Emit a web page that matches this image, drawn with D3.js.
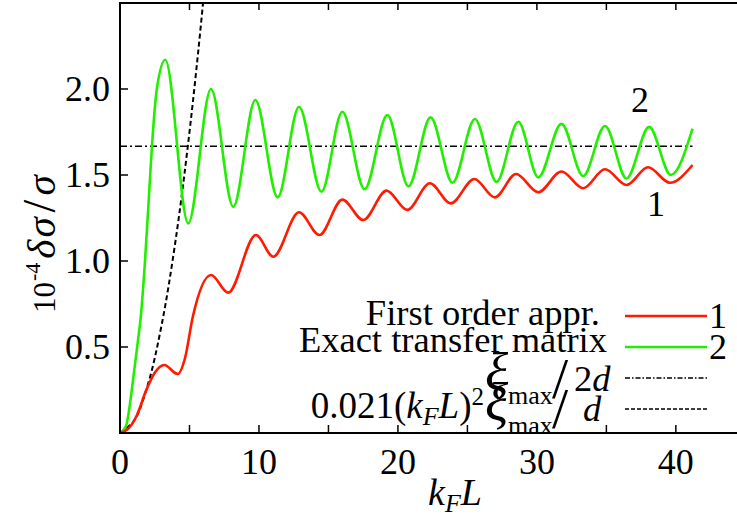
<!DOCTYPE html>
<html>
<head>
<meta charset="utf-8">
<script src="https://cdn.jsdelivr.net/npm/d3@7"></script>
<style>
  body { margin: 0; background: #fff; }
  svg text { font-family: "Liberation Serif", "Times New Roman", serif; fill: #000; }
</style>
</head>
<body>
<svg id="chart" width="737" height="518"></svg>
<script>
// values (k_F L, 10^-4 dsigma/sigma)
var firstOrderX = [0, 0.6, 1.2, 1.87, 2.5, 3.19, 4.15, 4.68, 5.24, 6.55, 7.78, 9.78, 11.03, 12.88, 14.35, 16.0, 17.5, 19.18, 20.67, 22.3, 23.8, 25.5, 26.98, 28.5, 30.1, 31.77, 33.33, 34.9, 36.45, 38.0, 39.57, 41.2];
var firstOrderY = [0, 0.025, 0.1, 0.245, 0.35, 0.395, 0.343, 0.436, 0.676, 0.919, 0.816, 1.151, 1.025, 1.283, 1.151, 1.357, 1.238, 1.409, 1.297, 1.452, 1.335, 1.477, 1.37, 1.506, 1.4, 1.52, 1.423, 1.533, 1.442, 1.545, 1.455, 1.558];

var exactX = [0, 0.43, 0.79, 1.03, 1.27, 1.5, 1.8, 2.1, 2.3, 2.65, 3.26, 4.91, 6.55, 8.15, 9.74, 11.35, 12.88, 14.5, 16.0, 17.6, 19.24, 20.76, 22.35, 23.93, 25.54, 27.1, 28.66, 30.1, 31.77, 33.33, 34.9, 36.45, 38.08, 39.64, 41.2];
var exactY = [0, 0.04, 0.213, 0.368, 0.523, 0.68, 1.0, 1.4, 1.667, 2.0, 2.17, 1.219, 2.0, 1.316, 1.936, 1.37, 1.897, 1.403, 1.868, 1.417, 1.849, 1.434, 1.835, 1.455, 1.826, 1.46, 1.81, 1.486, 1.797, 1.494, 1.785, 1.48, 1.78, 1.5, 1.77];

var limitX = [0, 41.2];
var limitY = [1.667, 1.667];

var quadX = [0, 1, 2, 3, 4, 5, 6, 7];
var quadY = [0, 0.07, 0.28, 0.63, 1.12, 1.75, 2.52, 3.43];

var xTicks = [0, 5, 10, 15, 20, 25, 30, 35, 40, 45];
var xLabels = [0, 10, 20, 30, 40];
var yTicks = [0.5, 1.0, 1.5, 2.0];

var svg = d3.select("#chart");
var x = d3.scaleLinear().domain([0, 44.4]).range([120, 737]);
var y = d3.scaleLinear().domain([0, 2.5]).range([433, 3]);

svg.append("clipPath").attr("id", "clip")
  .append("rect").attr("x", 120).attr("y", 3).attr("width", 617).attr("height", 430);

function pts(xs, ys) {
  return xs.map(function(v, i) { return [v, ys[i]]; });
}

var line = d3.line()
  .x(function(d) { return x(d[0]); })
  .y(function(d) { return y(d[1]); })
  .curve(d3.curveMonotoneX);

var g = svg.append("g").attr("clip-path", "url(#clip)");

g.append("path").datum(pts(limitX, limitY))
  .attr("d", line).attr("fill", "none").attr("stroke", "#000")
  .attr("stroke-width", 1.6).attr("stroke-dasharray", "7,3,2,3");

g.append("path").datum(pts(quadX, quadY))
  .attr("d", line.curve(d3.curveCatmullRom)).attr("fill", "none").attr("stroke", "#000")
  .attr("stroke-width", 2).attr("stroke-dasharray", "5,3");
line.curve(d3.curveMonotoneX);

g.append("path").datum(pts(exactX, exactY))
  .attr("d", line).attr("fill", "none").attr("stroke", "#22ee00").attr("stroke-width", 2.6);

g.append("path").datum(pts(firstOrderX, firstOrderY))
  .attr("d", line).attr("fill", "none").attr("stroke", "#ff1a00").attr("stroke-width", 2.6);

// frame
svg.append("path").attr("d", "M737,3H120V433H737")
  .attr("fill", "none").attr("stroke", "#000").attr("stroke-width", 2);

// ticks, pointing inward
xTicks.forEach(function(t) {
  if (t == 0) return;
  svg.append("line").attr("x1", x(t)).attr("x2", x(t)).attr("y1", 433).attr("y2", 425)
    .attr("stroke", "#000").attr("stroke-width", 1.5);
  svg.append("line").attr("x1", x(t)).attr("x2", x(t)).attr("y1", 3).attr("y2", 10)
    .attr("stroke", "#000").attr("stroke-width", 1.5);
});
yTicks.forEach(function(t) {
  svg.append("line").attr("x1", 120).attr("x2", 128).attr("y1", y(t)).attr("y2", y(t))
    .attr("stroke", "#000").attr("stroke-width", 1.5);
  svg.append("text").attr("x", 110).attr("y", y(t) + 12)
    .attr("text-anchor", "end").attr("font-size", 36).text(t.toFixed(1));
});
xLabels.forEach(function(t) {
  svg.append("text").attr("x", x(t)).attr("y", 474)
    .attr("text-anchor", "middle").attr("font-size", 36).text(t);
});

// x label
var xl = svg.append("text").attr("x", 455).attr("y", 505).attr("text-anchor", "middle").attr("font-size", 38);
xl.append("tspan").attr("font-style", "italic").text("k");
xl.append("tspan").attr("font-style", "italic").attr("font-size", 26).attr("dy", 7).text("F");
xl.append("tspan").attr("font-style", "italic").attr("dy", -7).text("L");

// y label, bottom-up from y=313
var yl = svg.append("text").attr("transform", "translate(55,313) rotate(-90)")
  .attr("text-anchor", "start").attr("font-size", 31);
yl.append("tspan").text("10");
yl.append("tspan").attr("font-size", 22).attr("dx", 1).attr("dy", -15).text("-4");
yl.append("tspan").attr("font-style", "italic").attr("font-size", 41).attr("dx", 4).attr("dy", 15).text("δ");
yl.append("tspan").attr("font-style", "italic").attr("font-size", 41).attr("dx", 2).text("σ");
yl.append("tspan").attr("font-size", 46).attr("dx", 5).text("/");
yl.append("tspan").attr("font-style", "italic").attr("font-size", 41).attr("dx", 4).text("σ");

// curve numbers
svg.append("text").attr("x", 640).attr("y", 112).attr("text-anchor", "middle").attr("font-size", 36).text("2");
svg.append("text").attr("x", 656).attr("y", 216).attr("text-anchor", "middle").attr("font-size", 36).text("1");

// legend
var legendLines = [
  { y: 316, color: "#ff1a00", width: 2.6, dash: null, num: "1" },
  { y: 347, color: "#22ee00", width: 2.6, dash: null, num: "2" },
  { y: 378, color: "#000", width: 1.5, dash: "5,2,1.5,2", num: "" },
  { y: 409, color: "#000", width: 1.5, dash: "4,2", num: "" }
];
legendLines.forEach(function(l) {
  svg.append("line").attr("x1", 625).attr("x2", 707).attr("y1", l.y).attr("y2", l.y)
    .attr("stroke", l.color).attr("stroke-width", l.width).attr("stroke-dasharray", l.dash);
  if (l.num) svg.append("text").attr("x", 709).attr("y", l.y + 12).attr("font-size", 36).text(l.num);
});

svg.append("text").attr("x", 600).attr("y", 325).attr("text-anchor", "end").attr("font-size", 36.5).text("First order appr.");
svg.append("text").attr("x", 607).attr("y", 352).attr("text-anchor", "end").attr("font-size", 36.5).text("Exact transfer matrix");

// xi_max / denominator
function ratio(base, denom) {
  svg.append("text").attr("x", 485).attr("y", base).attr("font-size", 54)
    .attr("font-family", "DejaVu Serif").attr("font-style", "italic").text("ξ");
  svg.append("text").attr("x", 508).attr("y", base + 13).attr("font-size", 26).text("max");
  svg.append("text").attr("x", 552).attr("y", base + 7).attr("font-size", 58).text("/");
  var t = svg.append("text").attr("x", denom == "2d" ? 574 : 583).attr("y", base).attr("font-size", 36.5);
  if (denom == "2d") t.append("tspan").text("2");
  t.append("tspan").attr("font-style", "italic").text("d");
}
ratio(391, "2d");

var l4 = svg.append("text").attr("x", 484).attr("y", 418).attr("text-anchor", "end").attr("font-size", 37);
l4.append("tspan").text("0.021(");
l4.append("tspan").attr("font-style", "italic").text("k");
l4.append("tspan").attr("font-style", "italic").attr("font-size", 26).attr("dy", 7).text("F");
l4.append("tspan").attr("font-style", "italic").attr("dy", -7).text("L");
l4.append("tspan").text(")");
l4.append("tspan").attr("font-size", 25).attr("dy", -13).text("2");
ratio(421, "d");
</script>
</body>
</html>
